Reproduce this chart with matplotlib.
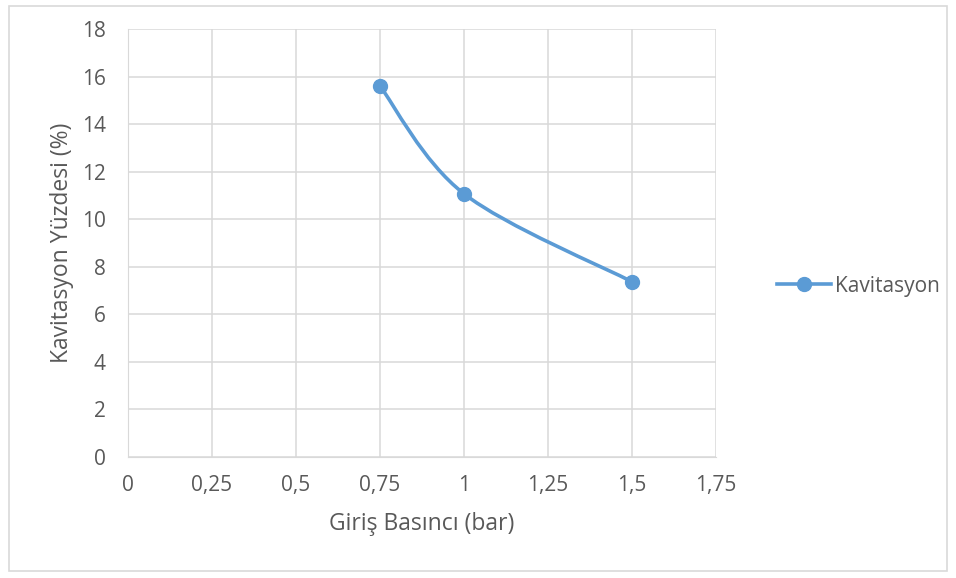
import numpy as np
import matplotlib
matplotlib.use("Agg")
import matplotlib.pyplot as plt
from matplotlib.path import Path
from matplotlib.patches import PathPatch, Rectangle
from matplotlib.lines import Line2D

plt.rcParams['font.family'] = ['Open Sans', 'DejaVu Sans']

# data
pressure = [0.75, 1.0, 1.5]
cavitation = [15.6, 11.07, 7.37]
series_name = 'Kavitasyon'

xticks = [0, 0.25, 0.5, 0.75, 1, 1.25, 1.5, 1.75]
xtick_labels = ['0', '0,25', '0,5', '0,75', '1', '1,25', '1,5', '1,75']
yticks = list(range(0, 20, 2))

blue = '#5b9bd5'
grid_c = '#d9d9d9'
text_c = '#595959'

fig = plt.figure(figsize=(9.56, 5.78), dpi=100)
ax = fig.add_axes([0.1339, 0.2093, 0.749 - 0.1339, 0.9498 - 0.2093])

# smoothed line like excel (catmull-rom -> bezier)
pts = np.column_stack([pressure, cavitation])
ext = np.vstack([pts[0], pts, pts[-1]])
verts = [tuple(pts[0])]
codes = [Path.MOVETO]
for i in range(len(pts) - 1):
    p0, p1, p2, p3 = ext[i], ext[i + 1], ext[i + 2], ext[i + 3]
    c1 = p1 + (p2 - p0) / 6
    c2 = p2 - (p3 - p1) / 6
    verts += [tuple(c1), tuple(c2), tuple(p2)]
    codes += [Path.CURVE4] * 3
ax.add_patch(PathPatch(Path(verts, codes), fill=False, edgecolor=blue, lw=2.6,
                       capstyle='round', zorder=3))
ax.plot(pressure, cavitation, ls='none', marker='o', ms=10, color=blue, zorder=4)

ax.set_xlim(0, 1.75)
ax.set_ylim(0, 18)
ax.set_xticks(xticks)
ax.set_xticklabels(xtick_labels)
ax.set_yticks(yticks)
ax.grid(True, color=grid_c, lw=1.1)
ax.set_axisbelow(True)
for s in ['top', 'right']:
    ax.spines[s].set_visible(False)
ax.spines['left'].set_color(grid_c)
ax.spines['bottom'].set_color(grid_c)
ax.tick_params(length=0, labelsize=15, colors=text_c)
ax.tick_params(axis='x', pad=13)
ax.tick_params(axis='y', pad=16)

ax.set_xlabel('Giriş Basıncı (bar)', fontsize=16.5, color=text_c, va='center')
ax.set_ylabel('Kavitasyon Yüzdesi (%)', fontsize=16.5, color=text_c, va='center')
ax.xaxis.set_label_coords(0.5, -0.1565)
ax.yaxis.set_label_coords(-0.112, 0.5)

handle = Line2D([], [], color=blue, lw=2.6, marker='o', ms=10)
fig.legend([handle], [series_name], loc='center left', bbox_to_anchor=(0.813, 0.505),
           frameon=False, fontsize=15, labelcolor=text_c, handlelength=2.6,
           handletextpad=0.15, borderpad=0, borderaxespad=0)

fig.add_artist(Rectangle((0.009, 0.012), 0.982, 0.977, transform=fig.transFigure,
                         fill=False, edgecolor=grid_c, lw=1.2))

fig.savefig('out.png', dpi=100)
